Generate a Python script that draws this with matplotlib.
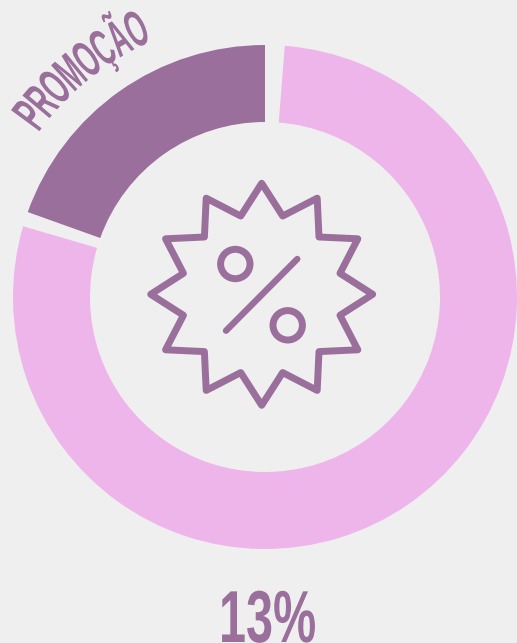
import matplotlib
matplotlib.use('Agg')
import matplotlib.pyplot as plt
import numpy as np
from matplotlib.patches import Circle, PathPatch
from matplotlib.path import Path
from matplotlib.patheffects import AbstractPathEffect
from matplotlib.transforms import Affine2D

W, H = 517, 643
BG = '#efefef'
PINK = '#eeb5ea'
PURPLE = '#9b6f9b'
CX, CY = 265, H - 297

# shares of the ring, in degrees: promo, gap, rest, gap
labels = ['PROMOÇÃO', '', '', '']
shares = [70.3, 3.4, 281.8, 4.5]
value_label = '13%'


class Squeeze(AbstractPathEffect):
    # narrows the glyphs along the baseline, no condensed font is installed
    def __init__(self, sx):
        super().__init__()
        self.sx = sx

    def draw_path(self, renderer, gc, tpath, affine, rgbFace=None):
        renderer.draw_path(gc, tpath, Affine2D().scale(self.sx, 1) + affine, rgbFace)


class OnArc(AbstractPathEffect):
    # bends one text along a circle around the ring centre
    def __init__(self, radius, start_deg, sx):
        super().__init__()
        self.radius = radius
        self.start = np.radians(start_deg)
        self.sx = sx

    def draw_path(self, renderer, gc, tpath, affine, rgbFace=None):
        pts = affine.transform(tpath.vertices) - affine.get_matrix()[:2, 2]
        theta = self.start - pts[:, 0] * self.sx / self.radius
        r = self.radius + pts[:, 1]
        bent = np.column_stack([CX + r * np.cos(theta), CY + r * np.sin(theta)])
        renderer.draw_path(gc, Path(bent, tpath.codes), Affine2D(), rgbFace)


fig = plt.figure(figsize=(W / 100, H / 100), dpi=100, facecolor=BG)
ax = fig.add_axes([0, 0, 1, 1])

ax.pie(shares, colors=[PURPLE, 'none', PINK, 'none'], startangle=90, counterclock=True,
       center=(CX, CY), radius=252, wedgeprops={'width': 77, 'linewidth': 0})
ax.set_xlim(0, W)
ax.set_ylim(0, H)
ax.set_aspect('equal')
ax.axis('off')

# badge icon
star = Path.unit_regular_star(12, innerCircle=0.73)
star_tr = Affine2D().scale(111).translate(261.7, H - 294.3) + ax.transData
ax.add_patch(PathPatch(star, fc='none', ec=PURPLE, lw=5, joinstyle='round', transform=star_tr))
ax.add_patch(Circle((235.3, H - 264), 14.7, fc='none', ec=PURPLE, lw=5))
ax.add_patch(Circle((287.7, H - 325.3), 14.7, fc='none', ec=PURPLE, lw=5))
ax.plot([226, 297.3], [H - 330.7, H - 259], color=PURPLE, lw=4.6, solid_capstyle='round')

ax.text(12, H - 130, labels[0], color=PURPLE, family='Liberation Sans', weight='bold', fontsize=37,
        ha='left', va='baseline', path_effects=[OnArc(280, 144, 0.48)])
ax.text(219, H - 642, value_label, color=PURPLE, family='Liberation Sans', weight='bold', fontsize=53,
        ha='left', va='baseline', path_effects=[Squeeze(0.66)])

fig.savefig('out.png', dpi=100, facecolor=BG)
